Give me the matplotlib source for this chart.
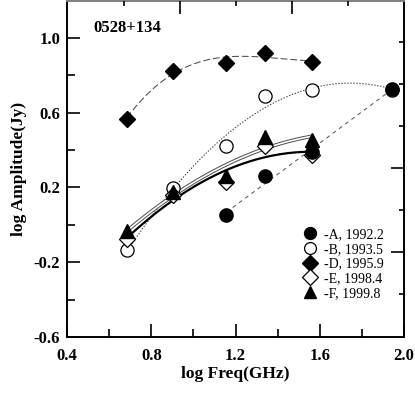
import numpy as np
import matplotlib
matplotlib.use("Agg")
import matplotlib.pyplot as plt

plt.rcParams['font.family'] = ['Liberation Serif', 'DejaVu Serif']

# ---- data (log Freq GHz, log Amplitude Jy) ----
A_x = [1.157, 1.342, 1.565, 1.945]
A_y = [0.050, 0.259, 0.387, 0.728]
B_x = [0.684, 0.902, 1.157, 1.342, 1.565, 1.945]
B_y = [-0.136, 0.195, 0.420, 0.690, 0.723, 0.722]
D_x = [0.684, 0.902, 1.157, 1.342, 1.565]
D_y = [0.568, 0.824, 0.867, 0.920, 0.872]
E_x = [0.684, 0.902, 1.157, 1.342, 1.565]
E_y = [-0.077, 0.160, 0.227, 0.420, 0.376]
F_x = [0.684, 0.902, 1.157, 1.342, 1.565]
F_y = [-0.035, 0.175, 0.259, 0.472, 0.456]
labels = ['-A, 1992.2', '-B, 1993.5', '-D, 1995.9', '-E, 1998.4', '-F, 1999.8']
source = '0528+134'
xticks = [0.4, 0.8, 1.2, 1.6, 2.0]
yticks = [-0.6, -0.2, 0.2, 0.6, 1.0]

fig = plt.figure(figsize=(4.15, 3.93), dpi=100)
ax = fig.add_axes([67/415, 56/393, 337/415, 336.5/393])

def fit(x, y, deg):
    c = np.polyfit(x, y, deg)
    xx = np.linspace(min(x), max(x), 200)
    return xx, np.polyval(c, xx)

# fitted curves
xx, yy = fit(D_x, D_y, 3)
ax.plot(xx, yy, color='0.25', lw=0.7, dashes=(7, 3), zorder=2)
xx, yy = fit(B_x, B_y, 2)
ax.plot(xx, yy, color='0.25', lw=0.8, dashes=(1.2, 1.5), zorder=2)
xx, yy = fit(A_x, A_y, 1)
ax.plot(xx, yy, color='0.3', lw=0.7, dashes=(4, 4), zorder=2)
xx, yy = fit(F_x, F_y, 2)
ax.plot(xx, yy, color='0.3', lw=2.6, zorder=2, solid_capstyle='butt')
ax.plot(xx, yy, color='white', lw=1.2, zorder=2.1, solid_capstyle='butt')
xx, yy = fit(E_x, E_y, 2)
ax.plot(xx, yy, color='black', lw=1.6, zorder=2.2)

# markers
ms = 9.5
hA, = ax.plot(A_x, A_y, 'o', ms=ms, mfc='black', mec='black', ls='none', zorder=5)
hB, = ax.plot(B_x, B_y, 'o', ms=ms, mfc='white', mec='black', mew=0.9, ls='none', zorder=4)
hD, = ax.plot(D_x, D_y, 'D', ms=8.5, mfc='black', mec='black', ls='none', zorder=5)
hE, = ax.plot(E_x, E_y, 'D', ms=8.5, mfc='white', mec='black', mew=0.9, ls='none', zorder=4)
hF, = ax.plot(F_x, F_y, '^', ms=10, mfc='black', mec='black', ls='none', zorder=5)

ax.set_xlim(0.4, 2.0)
ax.set_ylim(-0.6, 1.2)
ax.set_xticks(xticks)
ax.set_xticks([0.6, 1.0, 1.4, 1.8], minor=True)
ax.set_yticks(yticks)
ax.set_yticks([-0.4, 0.0, 0.4, 0.8], minor=True)
ax.set_xticklabels([f'{v:.1f}' for v in xticks])
ax.set_yticklabels([f'{v:.1f}' for v in yticks])
ax.tick_params(which='both', direction='in', top=False, right=False, width=1.2,
               labelsize=12)
ax.tick_params(which='major', length=9.5)
ax.tick_params(which='minor', length=5.8)
ax.tick_params(axis='x', pad=8)
ax.tick_params(axis='y', pad=5)
for lab in ax.get_xticklabels() + ax.get_yticklabels():
    lab.set_fontweight('bold')
for s in ax.spines.values():
    s.set_linewidth(1.4)
ax.spines['top'].set_color('0.5')

# secondary top / right tick axes (no labels)
axt = ax.twiny()
axt.set_xlim(ax.get_xlim())
axt.set_xticks([0.935, 1.466])
axt.set_xticks([0.670, 1.2, 1.732], minor=True)
axt.tick_params(which='both', direction='in', labeltop=False, width=1.2)
axt.tick_params(which='major', length=9.5)
axt.tick_params(which='minor', length=3.5)
axr = ax.twinx()
axr.set_ylim(ax.get_ylim())
axr.set_yticks([0.304, -0.144])
axr.set_yticks([0.976, 0.752, 0.528, 0.080, -0.368], minor=True)
axr.tick_params(which='both', direction='in', labelright=False, width=1.2)
axr.tick_params(which='major', length=9.5)
axr.tick_params(which='minor', length=3.8)
for a in (axt, axr):
    for s in a.spines.values():
        s.set_visible(False)

ax.set_xlabel('log Freq(GHz)', fontsize=12.5, fontweight='bold', labelpad=1)
ax.set_ylabel('log Amplitude(Jy)', fontsize=12.5, fontweight='bold', labelpad=5)

ax.text(0.523, 1.053, source, fontsize=12, fontweight='bold', va='center', ha='left')

leg = ax.legend([hA, hB, hD, hE, hF], labels, loc='upper left',
                bbox_to_anchor=(0.672, 0.352), frameon=False, fontsize=10,
                handlelength=1.0, handletextpad=0.5, labelspacing=0.12,
                borderpad=0.2, numpoints=1, markerscale=0.9)
leg.set_zorder(10)

fig.savefig('out.png', dpi=100)
